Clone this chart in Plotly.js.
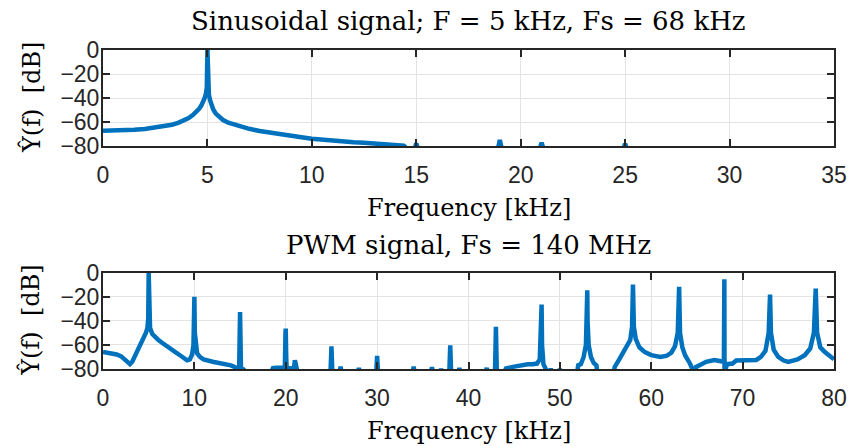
<!DOCTYPE html>
<html>
<head>
<meta charset="utf-8">
<script src="https://cdn.plot.ly/plotly-3.0.1.min.js"></script>
<style>html,body{margin:0;padding:0;background:#fff;}#chart{width:850px;height:446px;}</style>
</head>
<body>
<div id="chart"></div>
<script>
// Top: sinusoidal signal spectrum (kHz, dB)
var sinFreq = [0, 0.5, 1, 1.5, 2, 2.5, 3, 3.3, 3.6, 3.9, 4.1, 4.3, 4.45, 4.6, 4.7, 4.8, 4.87, 4.93, 4.97, 5, 5.03, 5.07, 5.13, 5.2, 5.28, 5.4, 5.55, 5.75, 6, 6.25, 6.5, 7, 7.5, 8, 8.5, 9, 9.5, 10, 10.5, 11, 11.5, 12, 12.5, 13, 13.5, 14, 14.4, 14.5, null,
  14.9, 15, 15.1, null, 18.9, 19, 19.1, null, 20.9, 21, 21.1, null, 24.9, 25, 25.1];
var sinDb = [-67.2, -67.1, -66.8, -66.3, -65.7, -64.6, -63.3, -62.2, -60.7, -58.6, -56.7, -54.2, -52, -49, -46.5, -43, -40, -36, -31, 0, -32, -37, -42, -46, -49.5, -53, -55.8, -58.3, -60.5, -62, -63.3, -65.6, -67.5, -69, -70.3, -71.4, -72.6, -73.8, -74.7, -75.5, -76.2, -76.8, -77.3, -77.8, -78.4, -79.1, -79.7, -81, null,
  -83, -77.8, -83, null, -83, -75, -83, null, -83, -77.2, -83, null, -83, -78, -83];

// Bottom: PWM signal spectrum (kHz, dB)
var pwmFreq = [0, 0.5, 1, 1.5, 2, 2.5, 2.95, 3.2, 3.6, 4, 4.4, 4.7, 4.86, 4.95, 5, 5.05, 5.15, 5.4, 5.7, 6, 6.5, 7, 7.5, 8, 8.5, 9, 9.2, 9.5, 9.75, 9.9, 9.97, 10, 10.05, 10.15, 10.3, 10.6, 11, 12, 13, 14, 14.6, 14.9, 15, 15.1, 15.4, 15.6, null,
  18.4, 18.6, 19, 19.5, 19.9, 19.97, 20, 20.05, 20.1, 20.6, 20.9, 21, 21.1, 21.3, null,
  24.9, 25, 25.1, null, 25.9, 26, 26.1, null, 27.9, 28, 28.1, null, 29.9, 30, 30.1, null,
  33.9, 34, 34.1, null, 35.9, 36, 36.1, null, 36.9, 37, 37.1, null, 37.9, 38, 38.1, null,
  38.9, 39, 39.1, null, 41.9, 42, 42.1, null, 42.9, 43, 43.1, null,
  43.9, 44.1, 45, 46, 46.5, 47, 47.5, 47.8, 47.95, 48, 48.05, 48.2, 48.4, 48.6, null,
  48.9, 49, 49.1, null, 49.9, 50, 50.1, null,
  51.9, 52, 52.3, 52.6, 52.85, 52.97, 53, 53.03, 53.15, 53.4, 53.7, 54, 54.1, null,
  55.9, 56, 56.5, 57, 57.4, 57.7, 57.9, 58, 58.1, 58.3, 58.7, 59.3, 60, 61, 61.7, 62.2, 62.6, 62.9, 63.05, 63.15, 63.4, 63.7, 64.2, 64.6, 64.7, null,
  64.8, 64.9, 65.5, 66, 66.9, 67.3, 67.7, 67.95, 68, 68.02, 68.3, 68.9, 69.3, 70, 71, 71.5, 72, 72.5, 72.85, 73, 73.1, 73.4, 73.9, 74.5, 75, 75.5, 76, 76.8, 77.4, 77.8, 78, 78.15, 78.5, 79, 79.5, 80];
var pwmDb = [-65.9, -66.3, -67, -68, -69.5, -72.5, -76, -74, -68, -62, -56, -50, -46, -38, 0, -38, -46, -51, -53.5, -55.5, -58.5, -61.5, -64, -66.5, -69, -71.5, -72.8, -72, -68, -60, -45, -20.2, -50, -62, -67, -70, -72, -74, -75.5, -77, -79, -79.8, -32.7, -79.5, -80.5, -83, null,
  -83, -79.2, -79, -79, -79, -50, -46.5, -70, -79, -79.5, -79, -72.8, -79, -83, null,
  -83, -61.2, -83, null, -83, -78, -83, null, -83, -79, -83, null, -83, -69.2, -83, null,
  -83, -78, -83, null, -83, -78.5, -83, null, -83, -79.8, -83, null, -83, -60.3, -83, null,
  -83, -79.2, -83, null, -83, -79, -83, null, -83, -45.1, -83, null,
  -83, -79.5, -78, -76.5, -76, -76, -75.5, -72, -50, -26.6, -60, -76, -79, -83, null,
  -83, -79.5, -83, null, -83, -79.8, -83, null,
  -83, -77, -76, -70, -60, -40, -14.7, -40, -60, -70, -75, -77, -83, null,
  -83, -78.3, -72, -66, -61, -56, -45, -10, -45, -55, -62, -66, -68.5, -70, -69, -66.4, -61, -50, -11.9, -50, -62, -68.6, -75, -80, -83, null,
  -83, -78.3, -76, -74, -72.5, -73.2, -74.2, -74, -5.6, -83, -76, -75.5, -73, -73, -73, -72.5, -70, -65, -50, -18.3, -50, -64, -70, -73, -74.2, -73.5, -72, -68.6, -63, -50, -13.3, -50, -62, -66, -69, -72];

var yTicks = [0, -20, -40, -60, -80];
var xTicksTop = [0, 5, 10, 15, 20, 25, 30, 35];
var xTicksBottom = [0, 10, 20, 30, 40, 50, 60, 70, 80];

var titleTop = 'Sinusoidal signal; F = 5 kHz, Fs = 68 kHz';
var titleBottom = 'PWM signal, Fs = 140 MHz';
var xLabel = 'Frequency [kHz]';
var yLabel = 'Ŷ(f)  [dB]';

var lineColor = '#0072BD';
var axisColor = '#262626';
var tickFont = {family: 'Liberation Sans, Arial, sans-serif', size: 23, color: axisColor};
var serif = {family: 'DejaVu Serif, serif', size: 24, color: '#000'};
var serifTitle = {family: 'DejaVu Serif, serif', size: 26, color: '#000'};

var traces = [
  {x: sinFreq, y: sinDb, type: 'scatter', mode: 'lines', line: {color: lineColor, width: 4.5}, connectgaps: false, xaxis: 'x', yaxis: 'y', hoverinfo: 'none'},
  {x: pwmFreq, y: pwmDb, type: 'scatter', mode: 'lines', line: {color: lineColor, width: 4.5}, connectgaps: false, xaxis: 'x2', yaxis: 'y2', hoverinfo: 'none'}
];

function xa(ticks, range, anchor) {
  return {range: range, tickvals: ticks, ticktext: ticks.map(String), ticks: 'inside', ticklen: 7, tickwidth: 2, tickcolor: axisColor,
    showline: true, linecolor: axisColor, linewidth: 2, mirror: 'allticks', showgrid: true, gridcolor: '#e3e3e3', gridwidth: 1,
    zeroline: false, tickfont: tickFont, ticklabelstandoff: 7, anchor: anchor, fixedrange: true};
}
function ya(domain, anchor) {
  return {range: [-80, 0], domain: domain, tickvals: yTicks, ticks: 'inside', ticklen: 7, tickwidth: 2, tickcolor: axisColor,
    showline: true, linecolor: axisColor, linewidth: 2, mirror: 'allticks', showgrid: true, gridcolor: '#e3e3e3', gridwidth: 1,
    zeroline: false, tickfont: tickFont, ticklabelstandoff: -3, anchor: anchor, fixedrange: true};
}

// Paper coordinates: plot area spans y 50..368.7 px
function py(p) { return (368.7 - p) / 318.7; }

var layout = {
  width: 850, height: 446,
  margin: {l: 103, r: 16, t: 50, b: 77.3},
  paper_bgcolor: '#fff', plot_bgcolor: '#fff',
  showlegend: false,
  xaxis: xa(xTicksTop, [0, 35], 'y'),
  yaxis: ya([0.6988, 1], 'x'),
  xaxis2: xa(xTicksBottom, [0, 80], 'y2'),
  yaxis2: ya([0, 0.3025], 'x2'),
  annotations: [
    {text: titleTop, xref: 'paper', yref: 'paper', x: 0.5, y: py(21), xanchor: 'center', yanchor: 'middle', showarrow: false, font: serifTitle},
    {text: titleBottom, xref: 'paper', yref: 'paper', x: 0.5, y: py(245), xanchor: 'center', yanchor: 'middle', showarrow: false, font: serifTitle},
    {text: xLabel, xref: 'paper', yref: 'paper', x: 0.5, y: py(208), xanchor: 'center', yanchor: 'middle', showarrow: false, font: serif},
    {text: xLabel, xref: 'paper', yref: 'paper', x: 0.5, y: py(431), xanchor: 'center', yanchor: 'middle', showarrow: false, font: serif},
    {text: yLabel, xref: 'paper', yref: 'paper', x: (31 - 103) / 731, y: py(98), xanchor: 'center', yanchor: 'middle', textangle: -90, showarrow: false, font: serif},
    {text: yLabel, xref: 'paper', yref: 'paper', x: (31 - 103) / 731, y: py(320.5), xanchor: 'center', yanchor: 'middle', textangle: -90, showarrow: false, font: serif}
  ]
};

Plotly.newPlot('chart', traces, layout, {displayModeBar: false, staticPlot: true});
</script>
</body>
</html>
